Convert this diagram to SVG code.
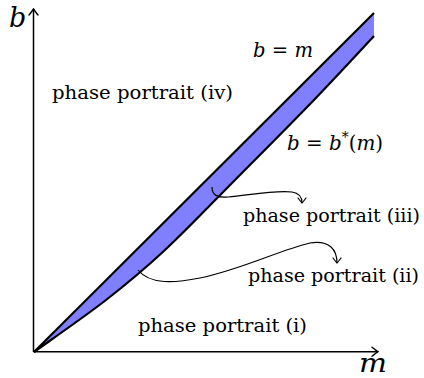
<svg xmlns="http://www.w3.org/2000/svg" width="424" height="378" viewBox="0 0 424 378">
<style>
.lbl{font-family:"DejaVu Serif","Liberation Serif",serif;font-size:19px}
.math{font-family:"DejaVu Serif","Liberation Serif",serif;font-size:20px}
.axl{font-family:"DejaVu Serif","Liberation Serif",serif;font-style:italic}
.axis{stroke:#000;stroke-width:1.5;fill:none}
.edge{stroke:#000;stroke-width:2.2;fill:none;stroke-linejoin:round}
.conn{stroke:#000;stroke-width:1.2;fill:none}
</style>
<defs>
<marker id="to" viewBox="-6 -5 8 10" markerWidth="8" markerHeight="10" refX="0" refY="0" orient="auto" markerUnits="userSpaceOnUse">
<path d="M-5,-4 Q-1,-1 0,0 Q-1,1 -5,4" fill="none" stroke="#000" stroke-width="1.2" stroke-linecap="round"/>
</marker>
<marker id="toBig" viewBox="-7 -6 9 12" markerWidth="9" markerHeight="12" refX="0" refY="0" orient="auto" markerUnits="userSpaceOnUse">
<path d="M-6,-4.5 Q-1.5,-1 0,0 Q-1.5,1 -6,4.5" fill="none" stroke="#000" stroke-width="1.4" stroke-linecap="round"/>
</marker>
</defs>

<g id="region-iii">
<path d="M34,352 L374,13 L374,36 C363.7,47 335.2,78 312,102 C288.8,126 259.5,155.3 235,180 C210.5,204.7 186.5,230 165,250 C143.5,270 127.8,283 106,300 C84.2,317 46,343.3 34,352 Z" fill="#8080ff" stroke="none"/>
<path class="edge" d="M34,352 L374,13"/>
<path class="edge" d="M34,352 C46,343.3 84.2,317 106,300 C127.8,283 143.5,270 165,250 C186.5,230 210.5,204.7 235,180 C259.5,155.3 288.8,126 312,102 C335.2,78 363.7,47 374,36"/>
</g>

<g id="axes">
<path class="axis" d="M33.5,352 L33.5,9" marker-end="url(#toBig)"/>
<path class="axis" d="M33.5,351.7 L378,351.7" marker-end="url(#toBig)"/>
<text class="axl" x="9" y="27" style="font-size:27px">b</text>
<text class="axl" x="359" y="372" style="font-size:26px" textLength="28" lengthAdjust="spacingAndGlyphs">m</text>
</g>

<g id="label-iv"><text class="lbl" x="52" y="99" textLength="181" lengthAdjust="spacingAndGlyphs">phase portrait (iv)</text></g>
<g id="label-bm"><text class="math" x="253" y="57" textLength="60" lengthAdjust="spacingAndGlyphs"><tspan font-style="italic">b</tspan> = <tspan font-style="italic">m</tspan></text></g>
<g id="label-bstar"><text class="math" x="287" y="150" textLength="96" lengthAdjust="spacingAndGlyphs"><tspan font-style="italic">b</tspan> = <tspan font-style="italic">b</tspan><tspan style="font-size:14px" dy="-8">*</tspan><tspan dy="8">(</tspan><tspan font-style="italic">m</tspan>)</text></g>
<g id="label-iii"><text class="lbl" x="243" y="222" textLength="177" lengthAdjust="spacingAndGlyphs">phase portrait (iii)</text></g>
<g id="label-ii"><text class="lbl" x="248" y="282" textLength="171" lengthAdjust="spacingAndGlyphs">phase portrait (ii)</text></g>
<g id="label-i"><text class="lbl" x="138" y="332" textLength="169" lengthAdjust="spacingAndGlyphs">phase portrait (i)</text></g>

<g id="connectors">
<path class="conn" d="M212,187 C212,195 217,198 228,197 C250,195 275,190 292,192 C299,193 302,197 302,203" marker-end="url(#to)"/>
<path class="conn" d="M138,270 C150,285 175,283 200,278 C240,270 280,250 310,243 C330,240 337,250 337,263" marker-end="url(#to)"/>
</g>
</svg>
